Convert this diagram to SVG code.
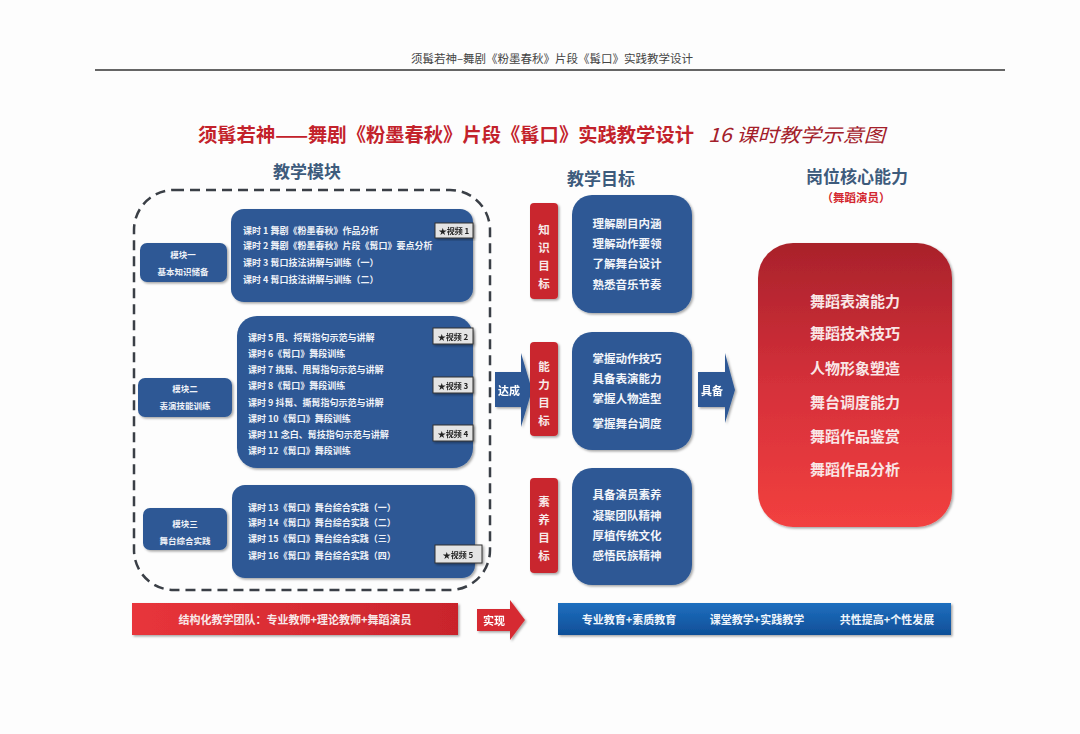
<svg xmlns="http://www.w3.org/2000/svg" width="1080" height="734" viewBox="0 0 1080 734">
<defs>
<linearGradient id="redBig" x1="0" y1="0" x2="0" y2="1">
<stop offset="0" stop-color="#a9222b"/>
<stop offset="0.5" stop-color="#d5303a"/>
<stop offset="1" stop-color="#f2403f"/>
</linearGradient>
<linearGradient id="redBar" x1="0" y1="0" x2="1" y2="0">
<stop offset="0" stop-color="#e8353b"/>
<stop offset="1" stop-color="#c9242c"/>
</linearGradient>
<linearGradient id="blueBar" x1="0" y1="0" x2="0" y2="1">
<stop offset="0" stop-color="#1f6fbf"/>
<stop offset="1" stop-color="#0f4f98"/>
</linearGradient>
<filter id="sh" x="-10%" y="-10%" width="130%" height="130%">
<feDropShadow dx="1.5" dy="1.5" stdDeviation="1.2" flood-color="#000" flood-opacity="0.35"/>
</filter>
<style>
text{font-family:"Noto Sans CJK SC","Noto Sans",sans-serif;}
.box{fill:#2e5995;}
.tag{fill:#c9282f;}
.lt{fill:#eef2f8;font-size:9px;font-weight:bold;dominant-baseline:central;}
.mt{fill:#eef2f8;font-size:8.5px;font-weight:bold;text-anchor:middle;dominant-baseline:central;}
.gt{fill:#f2f5fa;font-size:11.5px;font-weight:bold;text-anchor:middle;dominant-baseline:central;}
.tt{fill:#f7eaea;font-size:11.5px;font-weight:bold;text-anchor:middle;dominant-baseline:central;}
.rt{fill:#f9e6e6;font-size:15px;font-weight:bold;text-anchor:middle;dominant-baseline:central;}
.badge rect{fill:#e4e4e4;stroke:#333;stroke-width:1;}
.badge text{fill:#222;font-size:8px;font-weight:bold;text-anchor:middle;dominant-baseline:central;}
.hd{fill:#3d5b7c;font-size:17px;font-weight:bold;text-anchor:middle;dominant-baseline:central;}
.bt{fill:#ffffff;font-size:11px;font-weight:bold;text-anchor:middle;dominant-baseline:central;}
</style>
</defs>
<rect width="1080" height="734" fill="#fdfdfd"/>
<g id="header">
<text x="552" y="58" font-size="11.5" fill="#444" text-anchor="middle" dominant-baseline="central">须髯若神–舞剧《粉墨春秋》片段《髯口》实践教学设计</text>
<line x1="95" y1="70" x2="1005" y2="70" stroke="#666" stroke-width="1.8"/>
</g>
<g id="title">
<text x="198" y="133" font-size="19" font-weight="bold" fill="#c3222b" dominant-baseline="central" textLength="496" lengthAdjust="spacingAndGlyphs">须髯若神——舞剧《粉墨春秋》片段《髯口》实践教学设计</text>
<text x="708" y="133" font-size="19" font-style="italic" fill="#a3202a" dominant-baseline="central" textLength="177" lengthAdjust="spacingAndGlyphs">16 课时教学示意图</text>
</g>
<g id="headings">
<text class="hd" x="307" y="170">教学模块</text>
<text class="hd" x="601" y="177">教学目标</text>
<text class="hd" x="857" y="175">岗位核心能力</text>
<text x="856" y="197" font-size="11.5" font-weight="bold" fill="#d3262e" text-anchor="middle" dominant-baseline="central">（舞蹈演员）</text>
</g>
<g id="modules-frame">
<rect x="134" y="190" width="356" height="400" rx="40" fill="none" stroke="#3a3f46" stroke-width="2.5" stroke-dasharray="10 6"/>
</g>
<g id="module1">
<rect class="box" x="140" y="243" width="87" height="39" rx="7" filter="url(#sh)"/>
<text class="mt" x="183" y="254">模块一</text>
<text class="mt" x="183" y="271">基本知识储备</text>
<rect class="box" x="231" y="209" width="242" height="93" rx="13" filter="url(#sh)"/>
<text class="lt" x="243" y="230">课时 1 舞剧《粉墨春秋》作品分析</text>
<text class="lt" x="243" y="245">课时 2 舞剧《粉墨春秋》片段《髯口》要点分析</text>
<text class="lt" x="243" y="262">课时 3 髯口技法讲解与训练（一）</text>
<text class="lt" x="243" y="279">课时 4 髯口技法讲解与训练（二）</text>
<g class="badge" filter="url(#sh)"><rect x="435" y="223" width="38" height="15"/><text x="454" y="230.5">★视频 1</text></g>
</g>
<g id="module2">
<rect class="box" x="138" y="378" width="94" height="39" rx="7" filter="url(#sh)"/>
<text class="mt" x="185" y="388">模块二</text>
<text class="mt" x="185" y="405">表演技能训练</text>
<rect class="box" x="237" y="316" width="236" height="152" rx="20" filter="url(#sh)"/>
<text class="lt" x="248" y="337">课时 5 甩、捋髯指句示范与讲解</text>
<text class="lt" x="248" y="353">课时 6《髯口》舞段训练</text>
<text class="lt" x="248" y="369">课时 7 挑髯、甩髯指句示范与讲解</text>
<text class="lt" x="248" y="385">课时 8《髯口》舞段训练</text>
<text class="lt" x="248" y="402">课时 9 抖髯、撕髯指句示范与讲解</text>
<text class="lt" x="248" y="418">课时 10《髯口》舞段训练</text>
<text class="lt" x="248" y="434">课时 11 念白、髯技指句示范与讲解</text>
<text class="lt" x="248" y="450">课时 12《髯口》舞段训练</text>
<g class="badge" filter="url(#sh)"><rect x="433" y="328" width="40" height="16"/><text x="453" y="336">★视频 2</text></g>
<g class="badge" filter="url(#sh)"><rect x="433" y="377" width="40" height="16"/><text x="453" y="385">★视频 3</text></g>
<g class="badge" filter="url(#sh)"><rect x="433" y="425" width="40" height="16"/><text x="453" y="433">★视频 4</text></g>
</g>
<g id="module3">
<rect class="box" x="143" y="508" width="84" height="42" rx="7" filter="url(#sh)"/>
<text class="mt" x="185" y="523">模块三</text>
<text class="mt" x="185" y="540">舞台综合实践</text>
<rect class="box" x="232" y="485" width="243" height="93" rx="13" filter="url(#sh)"/>
<text class="lt" x="248" y="507">课时 13《髯口》舞台综合实践（一）</text>
<text class="lt" x="248" y="522">课时 14《髯口》舞台综合实践（二）</text>
<text class="lt" x="248" y="538">课时 15《髯口》舞台综合实践（三）</text>
<text class="lt" x="248" y="555">课时 16《髯口》舞台综合实践（四）</text>
<g class="badge" filter="url(#sh)"><rect x="435" y="545" width="47" height="18"/><text x="458" y="554">★视频 5</text></g>
</g>
<g id="connectors">
<g id="arrow-dacheng" filter="url(#sh)">
<polygon points="495,372 521,372 521,353 532,390 521,427 521,407 495,407" fill="#2e5995"/>
<text class="bt" x="509" y="390">达成</text>
</g>
<g id="arrow-jubei" filter="url(#sh)">
<polygon points="698,372 725,372 725,353 735,390 725,423 725,407 698,407" fill="#2e5995"/>
<text class="bt" x="712" y="390">具备</text>
</g>
<g id="arrow-shixian" filter="url(#sh)">
<polygon points="477,609 510,609 510,600 525,620 510,640 510,631 477,631" fill="#d62a33"/>
<text class="bt" x="494" y="620">实现</text>
</g>
</g>
<g id="goal-knowledge">
<rect class="tag" x="530" y="203" width="28" height="96" rx="4" filter="url(#sh)"/>
<text class="tt" x="544" y="229">知</text><text class="tt" x="544" y="247">识</text><text class="tt" x="544" y="265">目</text><text class="tt" x="544" y="283">标</text>
<rect class="box" x="572" y="195" width="120" height="118" rx="20" filter="url(#sh)"/>
<text class="gt" x="627" y="223">理解剧目内涵</text>
<text class="gt" x="627" y="243">理解动作要领</text>
<text class="gt" x="627" y="263">了解舞台设计</text>
<text class="gt" x="627" y="284">熟悉音乐节奏</text>
</g>
<g id="goal-ability">
<rect class="tag" x="530" y="342" width="28" height="94" rx="4" filter="url(#sh)"/>
<text class="tt" x="544" y="366">能</text><text class="tt" x="544" y="384">力</text><text class="tt" x="544" y="402">目</text><text class="tt" x="544" y="420">标</text>
<rect class="box" x="572" y="332" width="120" height="118" rx="20" filter="url(#sh)"/>
<text class="gt" x="627" y="358">掌握动作技巧</text>
<text class="gt" x="627" y="378">具备表演能力</text>
<text class="gt" x="627" y="398">掌握人物造型</text>
<text class="gt" x="627" y="423">掌握舞台调度</text>
</g>
<g id="goal-literacy">
<rect class="tag" x="530" y="478" width="28" height="95" rx="4" filter="url(#sh)"/>
<text class="tt" x="544" y="501">素</text><text class="tt" x="544" y="519">养</text><text class="tt" x="544" y="537">目</text><text class="tt" x="544" y="555">标</text>
<rect class="box" x="572" y="468" width="120" height="117" rx="20" filter="url(#sh)"/>
<text class="gt" x="627" y="494">具备演员素养</text>
<text class="gt" x="627" y="515">凝聚团队精神</text>
<text class="gt" x="627" y="535">厚植传统文化</text>
<text class="gt" x="627" y="555">感悟民族精神</text>
</g>
<g id="core-abilities">
<rect x="758" y="243" width="194" height="284" rx="35" fill="url(#redBig)" filter="url(#sh)"/>
<text class="rt" x="855" y="300">舞蹈表演能力</text>
<text class="rt" x="855" y="332">舞蹈技术技巧</text>
<text class="rt" x="855" y="367">人物形象塑造</text>
<text class="rt" x="855" y="401">舞台调度能力</text>
<text class="rt" x="855" y="435">舞蹈作品鉴赏</text>
<text class="rt" x="855" y="468">舞蹈作品分析</text>
</g>
<g id="team-bar">
<rect x="132" y="603" width="326" height="32" fill="url(#redBar)" filter="url(#sh)"/>
<text x="295" y="619" font-size="11" font-weight="bold" fill="#f8e8e8" text-anchor="middle" dominant-baseline="central">结构化教学团队：专业教师+理论教师+舞蹈演员</text>
</g>
<g id="outcome-bar">
<rect x="558" y="603" width="393" height="32" fill="url(#blueBar)" filter="url(#sh)"/>
<text x="629" y="619" font-size="11" font-weight="bold" fill="#f0f5fb" text-anchor="middle" dominant-baseline="central">专业教育+素质教育</text>
<text x="757" y="619" font-size="11" font-weight="bold" fill="#f0f5fb" text-anchor="middle" dominant-baseline="central">课堂教学+实践教学</text>
<text x="887" y="619" font-size="11" font-weight="bold" fill="#f0f5fb" text-anchor="middle" dominant-baseline="central">共性提高+个性发展</text>
</g>
</svg>
